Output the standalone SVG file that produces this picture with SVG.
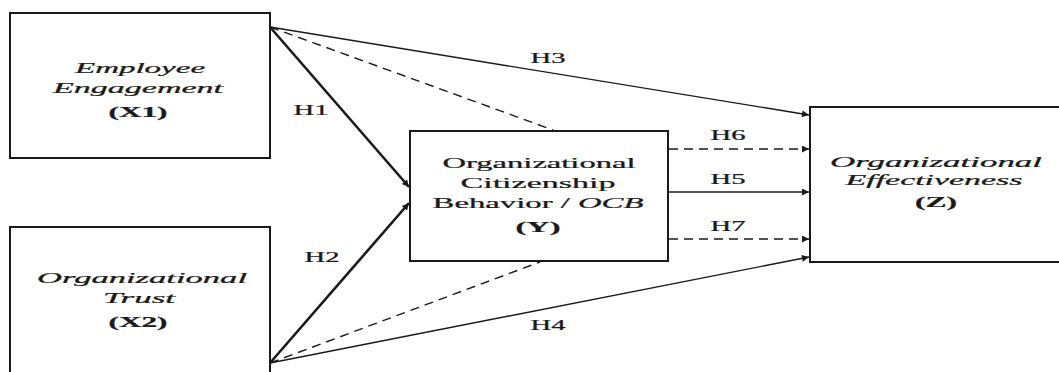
<svg xmlns="http://www.w3.org/2000/svg" width="1059" height="372" viewBox="0 0 1059 372">
<style>
.box{fill:#fff;stroke:#1a1a1a;stroke-width:2}
text{font-family:"Liberation Serif","Times New Roman",serif;font-size:15px;fill:#1a1a1a;text-anchor:middle;stroke:#1a1a1a;stroke-width:0.25}
.it{font-style:italic}
.b{font-weight:bold}
.lab{font-size:14px}
.ln{stroke:#1a1a1a;stroke-width:1.4;fill:none}
.thick{stroke-width:2.6}
.dash{stroke-dasharray:9 6}
</style>
<defs>
<marker id="ah" viewBox="0 0 10 10" refX="10" refY="5" markerWidth="10" markerHeight="7" markerUnits="userSpaceOnUse" orient="auto">
<path d="M0,0 L10,5 L0,10 z" fill="#1a1a1a"/>
</marker>
</defs>
<g id="connectors">
<line class="ln thick" x1="270" y1="27" x2="409" y2="187" marker-end="url(#ah)"/>
<line class="ln thick" x1="270" y1="363" x2="409" y2="203" marker-end="url(#ah)"/>
<line class="ln" x1="270" y1="27" x2="809" y2="115" marker-end="url(#ah)"/>
<line class="ln dash" x1="270" y1="27" x2="553" y2="130"/>
<line class="ln" x1="270" y1="363" x2="809" y2="257" marker-end="url(#ah)"/>
<line class="ln dash" x1="270" y1="363" x2="540" y2="262"/>
<line class="ln dash" x1="669" y1="149" x2="809" y2="149" marker-end="url(#ah)"/>
<line class="ln" x1="669" y1="192" x2="809" y2="192" marker-end="url(#ah)"/>
<line class="ln dash" x1="669" y1="239" x2="809" y2="239" marker-end="url(#ah)"/>
<text class="lab" transform="translate(311,115) scale(1.7,1)" textLength="20.6" lengthAdjust="spacingAndGlyphs">H1</text>
<text class="lab" transform="translate(322,262) scale(1.7,1)" textLength="20.6" lengthAdjust="spacingAndGlyphs">H2</text>
<text class="lab" transform="translate(548,63) scale(1.7,1)" textLength="20.6" lengthAdjust="spacingAndGlyphs">H3</text>
<text class="lab" transform="translate(548,330) scale(1.7,1)" textLength="20.6" lengthAdjust="spacingAndGlyphs">H4</text>
<text class="lab" transform="translate(728,140) scale(1.7,1)" textLength="20.6" lengthAdjust="spacingAndGlyphs">H6</text>
<text class="lab" transform="translate(728,184) scale(1.7,1)" textLength="20.6" lengthAdjust="spacingAndGlyphs">H5</text>
<text class="lab" transform="translate(728,231) scale(1.7,1)" textLength="20.6" lengthAdjust="spacingAndGlyphs">H7</text>
</g>
<g id="x1">
<rect class="box" x="10" y="13" width="260" height="145"/>
<text class="it" transform="translate(140,73) scale(1.7,1)" textLength="76.5" lengthAdjust="spacingAndGlyphs">Employee</text>
<text class="it" transform="translate(138,93) scale(1.7,1)" textLength="100" lengthAdjust="spacingAndGlyphs">Engagement</text>
<text class="b" transform="translate(138,117) scale(1.7,1)" textLength="34.7" lengthAdjust="spacingAndGlyphs">(X1)</text>
</g>
<g id="x2">
<rect class="box" x="10" y="227" width="260" height="150"/>
<text class="it" transform="translate(142,283) scale(1.7,1)" textLength="123.5" lengthAdjust="spacingAndGlyphs">Organizational</text>
<text class="it" transform="translate(139,303) scale(1.7,1)" textLength="42.4" lengthAdjust="spacingAndGlyphs">Trust</text>
<text class="b" transform="translate(138,327) scale(1.7,1)" textLength="34.7" lengthAdjust="spacingAndGlyphs">(X2)</text>
</g>
<g id="y">
<rect class="box" x="410" y="131" width="258" height="130"/>
<text transform="translate(539,168) scale(1.7,1)" textLength="113.5" lengthAdjust="spacingAndGlyphs">Organizational</text>
<text transform="translate(538,188) scale(1.7,1)" textLength="91.2" lengthAdjust="spacingAndGlyphs">Citizenship</text>
<text transform="translate(538,208) scale(1.7,1)" textLength="124" lengthAdjust="spacingAndGlyphs">Behavior / <tspan class="it">OCB</tspan></text>
<text class="b" transform="translate(538,232) scale(1.7,1)" textLength="26.5" lengthAdjust="spacingAndGlyphs">(Y)</text>
</g>
<g id="z">
<rect class="box" x="810" y="107" width="260" height="155"/>
<text class="it" transform="translate(936,167) scale(1.7,1)" textLength="124.7" lengthAdjust="spacingAndGlyphs">Organizational</text>
<text class="it" transform="translate(934,185) scale(1.7,1)" textLength="104.1" lengthAdjust="spacingAndGlyphs">Effectiveness</text>
<text class="b" transform="translate(936,207) scale(1.7,1)" textLength="24.7" lengthAdjust="spacingAndGlyphs">(Z)</text>
</g>
</svg>
